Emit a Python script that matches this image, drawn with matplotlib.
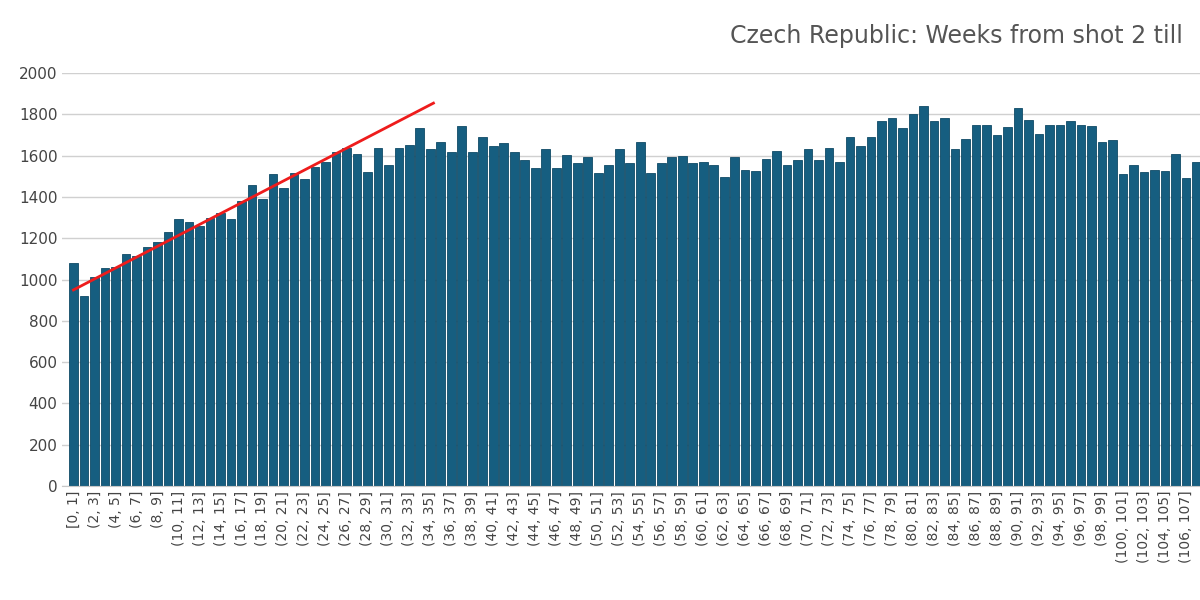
import matplotlib
matplotlib.use("Agg")
import matplotlib.pyplot as plt
import numpy as np

values = [1080,920,1015,1055,1060,1125,1115,1160,1180,1230,1295,1280,1260,1300,1325,1295,1380,1460,1390,1510,
          1445,1515,1485,1545,1570,1620,1640,1610,1520,1640,1555,1640,1650,1735,1635,1665,1620,1745,1620,1690,
          1645,1660,1620,1580,1540,1635,1540,1605,1565,1595,1515,1555,1635,1565,1665,1515,1565,1595,1600,1565,
          1570,1555,1495,1595,1530,1525,1585,1625,1555,1580,1635,1580,1640,1570,1690,1645,1690,1770,1785,1735,
          1800,1840,1770,1785,1635,1680,1750,1750,1700,1740,1830,1775,1705,1750,1750,1770,1750,1745,1665,1675,
          1510,1555,1520,1530,1525,1610,1490,1570]
categories = ["[0, 1]" if i == 0 else f"({i}, {i+1}]" for i in range(len(values))]
trend_x = [0, 34.3]
trend_y = [950, 1855]
title = "Czech Republic: Weeks from shot 2 till"

fig = plt.figure(figsize=(12, 6), dpi=100)
ax = fig.add_axes([0.052, 0.19, 0.948, 0.688])
x = np.arange(len(values))
ax.bar(x, values, width=0.82, color="#165e80", edgecolor="#0f4a66", linewidth=0.6, zorder=2)
ax.plot(trend_x, trend_y, color="#ee1c1c", linewidth=2, zorder=3)
ax.set_xlim(-1.05, 107.33)
ax.set_ylim(0, 2000)
ax.set_yticks(range(0, 2001, 200))
ax.yaxis.grid(True, color="#d0d0d0", linewidth=1, zorder=0)
ax.set_xticks(x[::2])
ax.set_xticklabels(categories[::2], rotation=90, fontsize=10, color="#444444")
ax.tick_params(axis="y", labelsize=11, colors="#444444", length=0)
ax.tick_params(axis="x", length=0)
for s in ["top", "right", "left"]:
    ax.spines[s].set_visible(False)
ax.spines["bottom"].set_color("#c8c8c8")
fig.text(0.608, 0.94, title, fontsize=17, color="#555555", ha="left", va="center")
fig.savefig("out.png", dpi=100)
